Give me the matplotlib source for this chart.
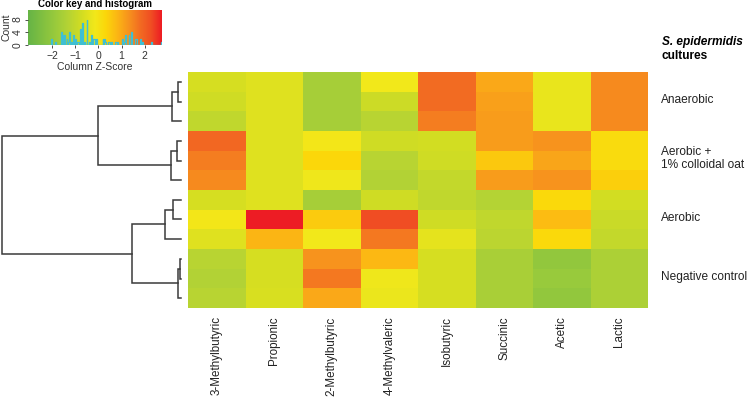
import numpy as np
import matplotlib.pyplot as plt
from matplotlib.colors import LinearSegmentedColormap

plt.rcParams['font.family'] = ['Liberation Sans', 'DejaVu Sans']

# column z-scores, rows top to bottom (3 replicates per culture group)
acids = ['3-Methylbutyric', 'Propionic', '2-Methylbutyric', '4-Methylvaleric',
         'Isobutyric', 'Succinic', 'Acetic', 'Lactic']
methylbutyric_3 = [-0.67, -0.79, -1.08, 1.88, 1.59, 1.42, -0.67, -0.09, -0.50, -1.25, -1.37, -1.25]
propionic = [-0.50, -0.50, -0.50, -0.50, -0.50, -0.50, -0.50, 2.75, 0.84, -0.67, -0.67, -0.61]
methylbutyric_2 = [-1.60, -1.60, -1.60, -0.09, 0.31, -0.21, -1.60, 0.49, -0.15, 1.30, 1.65, 1.01]
methylvaleric_4 = [-0.15, -0.85, -1.25, -0.79, -1.25, -1.37, -0.79, 2.29, 1.65, 0.78, -0.21, -0.27]
isobutyric = [1.82, 1.82, 1.59, -0.73, -0.79, -1.02, -1.08, -0.79, -0.38, -0.67, -0.67, -0.67]
succinic = [1.01, 1.13, 1.18, 1.18, 0.55, 1.18, -1.31, -1.08, -1.19, -1.54, -1.54, -1.54]
acetic = [-0.32, -0.32, -0.32, 1.30, 1.07, 1.30, 0.26, 0.72, 0.26, -2.01, -1.89, -2.01]
lactic = [1.42, 1.42, 1.42, 0.20, 0.20, 0.43, -0.73, -0.90, -1.02, -1.48, -1.48, -1.48]

groups = ['Anaerobic', 'Aerobic +\n1% colloidal oat', 'Aerobic', 'Negative control']
group_rows = [(0, 2), (3, 5), (6, 8), (9, 11)]

# row dendrogram merges: (left, right, height); new nodes numbered from 12
merges = [(0, 1, 0.17), (12, 2, 0.50), (3, 4, 0.22), (14, 5, 0.56),
          (13, 15, 4.64), (6, 7, 0.45), (17, 8, 0.90), (9, 10, 0.06),
          (19, 11, 0.17), (18, 20, 2.74), (16, 21, 10.0)]

z = np.column_stack([methylbutyric_3, propionic, methylbutyric_2, methylvaleric_4,
                     isobutyric, succinic, acetic, lactic])
n_rows, n_cols = z.shape
vmin, vmax = -3.05, 2.75

cmap = LinearSegmentedColormap.from_list('gyr', [
    (0.00, '#66b446'), (0.20, '#98ca3c'), (0.30, '#b5d334'), (0.40, '#d2dd22'),
    (0.50, '#f2e81a'), (0.58, '#fbd70a'), (0.66, '#fcb913'), (0.75, '#f7941d'),
    (0.84, '#f26b22'), (0.92, '#f04e23'), (1.00, '#ed1c24')])

fig = plt.figure(figsize=(7.52, 4.0), dpi=100)

# heatmap
ax = fig.add_axes([188 / 752, 1 - 308 / 400, 460 / 752, 236 / 400])
ax.pcolormesh(np.arange(n_cols + 1), np.arange(n_rows + 1), z, cmap=cmap,
              vmin=vmin, vmax=vmax, shading='flat')
ax.set_xlim(0, n_cols)
ax.set_ylim(n_rows, 0)
ax.set_xticks(np.arange(n_cols) + 0.5)
ax.set_xticklabels(acids, rotation=90, fontsize=8.4, color='#222222')
ax.tick_params(axis='x', length=0, pad=6)
ax.set_yticks([])
for s in ax.spines.values():
    s.set_visible(False)

for name, (r0, r1) in zip(groups, group_rows):
    ax.text(n_cols + 0.22, (r0 + r1 + 1) / 2 - 0.1, name, fontsize=8.6,
            va='center', ha='left', color='#222222', linespacing=1.1)
ax.text(n_cols + 0.24, -1.55, 'S. epidermidis', fontsize=8.6, ha='left', va='center',
        fontweight='bold', fontstyle='italic')
ax.text(n_cols + 0.24, -0.82, 'cultures', fontsize=8.6, ha='left', va='center',
        fontweight='bold')

# dendrogram
dax = fig.add_axes([0, 1 - 308 / 400, 188 / 752, 236 / 400])
pos = {i: i + 0.5 for i in range(n_rows)}
hgt = {i: 0.0 for i in range(n_rows)}
for k, (a, b, h) in enumerate(merges):
    node = n_rows + k
    dax.plot([hgt[a], h, h, hgt[b]], [pos[a], pos[a], pos[b], pos[b]],
             color='#3a3a3a', lw=1.1, solid_joinstyle='miter')
    pos[node] = (pos[a] + pos[b]) / 2
    hgt[node] = h
dax.set_xlim(10.11, -0.39)
dax.set_ylim(n_rows, 0)
dax.axis('off')

# color key with histogram
kax = fig.add_axes([28 / 752, 1 - 45 / 400, 134 / 752, 35 / 400])
grad = np.linspace(vmin, vmax, 256)
kax.imshow(grad[np.newaxis, :], cmap=cmap, vmin=vmin, vmax=vmax, aspect='auto',
           extent=[vmin, vmax, 0, 11], origin='lower')
counts, edges = np.histogram(z.ravel(), bins=np.linspace(vmin, vmax, 161))
kax.step(edges, np.append(counts, 0), where='post', color='#3fbfd2', lw=0.9)
kax.set_xlim(vmin, vmax)
kax.set_ylim(0, 11)
kax.set_xticks([-2, -1, 0, 1, 2])
kax.set_xticklabels(['\u22122', '\u22121', '0', '1', '2'])
kax.set_yticks([0, 4, 8])
kax.set_yticklabels(['0', '4', '8'], rotation=90, va='center')
kax.tick_params(labelsize=7.5, length=2.5, width=0.6, pad=1.5, colors='#333333')
for s in kax.spines.values():
    s.set_visible(False)
kax.set_xlabel('Column Z-Score', fontsize=7.5, labelpad=1, color='#333333')
kax.set_ylabel('Count', fontsize=7.5, labelpad=1, color='#333333')
kax.set_title('Color key and histogram', fontsize=7, fontweight='bold', pad=2)

fig.savefig('out.png', dpi=100)
